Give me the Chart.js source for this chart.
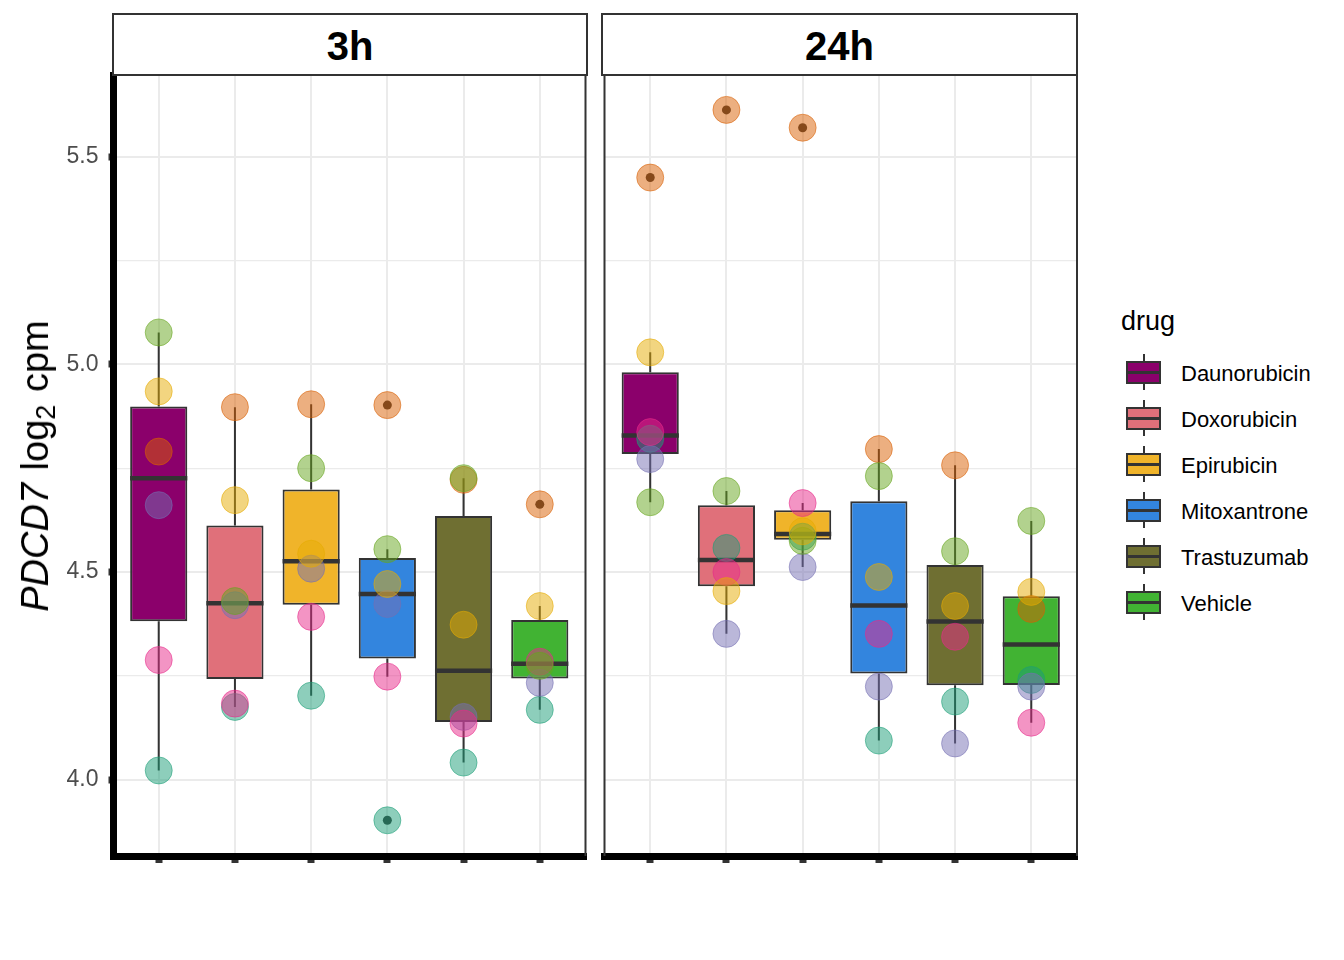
<!DOCTYPE html>
<html><head><meta charset="utf-8">
<script src="https://cdn.jsdelivr.net/npm/chart.js@4.4.0/dist/chart.umd.min.js"></script>
<style>
html,body{margin:0;padding:0;background:#fff;width:1344px;height:960px;overflow:hidden;font-family:"Liberation Sans",Arial,sans-serif;}
canvas{position:absolute;top:0;}
.strip{position:absolute;top:13px;height:63px;border:2px solid #333;box-sizing:border-box;background:#fff;text-align:center;font-weight:bold;font-size:40px;line-height:63px;color:#000;}
#ytitle{position:absolute;left:35px;top:466px;transform:translate(-50%,-50%) rotate(-90deg);white-space:nowrap;font-size:38px;color:#000;line-height:1;word-spacing:2px;}
#ytitle sub{font-size:27px;vertical-align:-7px;line-height:0;}
.ltitle{position:absolute;left:1121px;top:308px;font-size:27px;line-height:27px;color:#000;}
.lkey{position:absolute;left:1126px;width:35px;height:23px;border:2px solid #333;box-sizing:border-box;}
.lmed{position:absolute;left:0;right:0;top:8.5px;height:2.5px;background:#333;}
.lwhisk{position:absolute;left:1142.5px;width:2px;height:36px;background:#333;}
.llab{position:absolute;left:1181px;font-size:22px;line-height:22px;color:#000;white-space:nowrap;}
</style>
</head><body>
<canvas id="c3h" width="600" height="960" style="left:0px"></canvas>
<canvas id="c24h" width="510" height="960" style="left:590px"></canvas>
<div class="strip" id="s3h" style="left:112px;width:476px"></div>
<div class="strip" id="s24h" style="left:601px;width:477px"></div>
<div id="ytitle"><i>PDCD7</i> log<sub>2</sub> cpm</div>
<div id="legend"></div>
<script>
// ---- data ----
const drugs = ['Daunorubicin','Doxorubicin','Epirubicin','Mitoxantrone','Trastuzumab','Vehicle'];
const drugColors = ['#8B006B','#E0707A','#F0B42A','#3385DE','#6F6F32','#41B333'];
const facets = ['3h','24h'];
const yTicks = [4.0, 4.5, 5.0, 5.5];
// individuals (Dark2 order): teal, orange, purple, pink, green, yellow
const indColors = ['27,158,119','217,95,2','117,112,179','231,41,138','102,166,30','230,171,2'];
// values per individual, in drug order
const ind1_3h = [4.022, 4.175, 4.202, 3.902, 4.041, 4.168];
const ind2_3h = [4.790, 4.897, 4.904, 4.902, 4.722, 4.663];
const ind3_3h = [4.661, 4.420, 4.508, 4.423, 4.151, 4.233];
const ind4_3h = [4.288, 4.183, 4.392, 4.248, 4.135, 4.284];
const ind5_3h = [5.077, 4.430, 4.750, 4.555, 4.726, 4.274];
const ind6_3h = [4.935, 4.673, 4.544, 4.471, 4.373, 4.418];
const ind1_24h = [4.821, 4.558, 4.585, 4.094, 4.188, 4.240];
const ind2_24h = [5.450, 5.613, 5.570, 4.796, 4.757, 4.411];
const ind3_24h = [4.772, 4.351, 4.512, 4.224, 4.087, 4.224];
const ind4_24h = [4.837, 4.500, 4.666, 4.351, 4.344, 4.137];
const ind5_24h = [4.668, 4.695, 4.575, 4.731, 4.550, 4.623];
const ind6_24h = [5.029, 4.454, 4.598, 4.488, 4.418, 4.452];
const series3h = [ind1_3h, ind2_3h, ind3_3h, ind4_3h, ind5_3h, ind6_3h];
const series24h = [ind1_24h, ind2_24h, ind3_24h, ind4_24h, ind5_24h, ind6_24h];
const yMin = 3.816, yMax = 5.697;

// ---- boxplot statistics (type 7 quantiles, 1.5 IQR whiskers) ----
function q7(s, p){ const h=(s.length-1)*p, lo=Math.floor(h), hi=Math.min(lo+1,s.length-1); return s[lo]+(h-lo)*(s[hi]-s[lo]); }
function boxStats(vals){
  const s=[...vals].sort((a,b)=>a-b);
  const q1=q7(s,.25), med=q7(s,.5), q3=q7(s,.75), iqr=q3-q1;
  const lo=q1-1.5*iqr, hi=q3+1.5*iqr;
  const inside=s.filter(v=>v>=lo&&v<=hi);
  return {q1,med,q3,wlo:Math.min(...inside),whi:Math.max(...inside),out:s.filter(v=>v<lo||v>hi)};
}
const isMajor = v => yTicks.some(t=>Math.abs(t-v)<1e-6);

function makePlugin(stats, sides){
  return {
    id:'boxExtras',
    beforeDatasetsDraw(chart){
      const a=chart.chartArea, ctx=chart.ctx;
      ctx.save(); ctx.strokeStyle='#333333'; ctx.lineWidth=2; ctx.beginPath();
      if(sides.includes('t')){ctx.moveTo(a.left,a.top);ctx.lineTo(a.right,a.top);}
      if(sides.includes('r')){ctx.moveTo(a.right,a.top);ctx.lineTo(a.right,a.bottom);}
      if(sides.includes('l')){ctx.moveTo(a.left,a.top);ctx.lineTo(a.left,a.bottom);}
      ctx.stroke(); ctx.restore();
    },
    afterDatasetDraw(chart,args){
      if(args.index!==0) return;
      const ctx=chart.ctx, xs=chart.scales.x, ys=chart.scales.y, meta=chart.getDatasetMeta(0);
      ctx.save(); ctx.strokeStyle='#333333';
      meta.data.forEach((bar,i)=>{
        const s=stats[i], x=xs.getPixelForValue(i), half=bar.width/2;
        ctx.lineWidth=2; ctx.beginPath();
        ctx.moveTo(x,ys.getPixelForValue(s.q3)); ctx.lineTo(x,ys.getPixelForValue(s.whi));
        ctx.moveTo(x,ys.getPixelForValue(s.q1)); ctx.lineTo(x,ys.getPixelForValue(s.wlo));
        ctx.stroke();
        const ym=ys.getPixelForValue(s.med);
        ctx.lineWidth=4.5; ctx.beginPath(); ctx.moveTo(x-half,ym); ctx.lineTo(x+half,ym); ctx.stroke();
      });
      ctx.restore();
    }
  };
}

function makePanel(id, series, isLeft, padL, padR){
  const stats = drugs.map((d,i)=>boxStats(series.map(s=>s[i])));
  const outPts=[]; stats.forEach((s,i)=>s.out.forEach(v=>outPts.push({x:i,y:v})));
  const datasets=[{
    type:'bar', data:stats.map((s,i)=>({x:i,y:[s.q1,s.q3]})),
    backgroundColor:drugColors, borderColor:'#333333', borderWidth:2, borderSkipped:false,
    categoryPercentage:1, barPercentage:0.75, order:20
  },{
    type:'scatter', data:outPts, pointRadius:4.5, pointBackgroundColor:'#333333', pointBorderWidth:0, order:10
  }];
  series.forEach((vals,k)=>datasets.push({
    type:'scatter', data:vals.map((v,i)=>({x:i,y:v})), pointRadius:13.5,
    pointBackgroundColor:'rgba('+indColors[k]+',0.5)', pointBorderColor:'rgba('+indColors[k]+',0.55)', pointBorderWidth:1,
    order:6-k
  }));
  return new Chart(document.getElementById(id),{
    type:'bar',
    data:{datasets},
    options:{
      responsive:false, animation:false, events:[],
      layout:{padding:{left:padL,right:padR,top:75,bottom:104}},
      plugins:{legend:{display:false},tooltip:{enabled:false}},
      scales:{
        x:{type:'linear',min:-0.6,max:5.6,offset:false,
          ticks:{stepSize:1,includeBounds:false,display:false},
          grid:{offset:false,color:'#EBEBEB',lineWidth:2,tickColor:'#333333',tickWidth:7,tickLength:7,drawTicks:true},
          border:{display:true,color:'#000',width:7},
          afterFit:s=>{s.height=0;}},
        y:{type:'linear',min:yMin,max:yMax,
          ticks:{stepSize:0.25,includeBounds:false,display:isLeft,padding:10,color:'#4D4D4D',
            font:{family:'"Liberation Sans", Arial, sans-serif',size:23},
            callback:v=>isMajor(v)?v.toFixed(1):''},
          grid:{color:'#EBEBEB',lineWidth:c=>isMajor(c.tick.value)?2:1.3,
            tickColor:c=>isMajor(c.tick.value)?'#333333':'rgba(0,0,0,0)',tickWidth:7,tickLength:4.5,drawTicks:isLeft},
          border:{display:isLeft,color:'#000',width:7},
          afterFit:s=>{s.width=isLeft?113:0;}}
      }
    },
    plugins:[makePlugin(stats, isLeft?'tr':'trl')]
  });
}
makePanel('c3h', series3h, true, 0, 13);
makePanel('c24h', series24h, false, 12, 23);
document.getElementById('s3h').textContent=facets[0];
document.getElementById('s24h').textContent=facets[1];

// legend
const lg=document.getElementById('legend');
let html='<div class="ltitle">drug</div>';
drugs.forEach((d,i)=>{
  const c=372.3+46*i;
  html+='<div class="lwhisk" style="top:'+(c-18)+'px"></div>';
  html+='<div class="lkey" style="top:'+(c-11.5)+'px;background:'+drugColors[i]+'"><div class="lmed"></div></div>';
  html+='<div class="llab" style="top:'+(c-9.7)+'px">'+d+'</div>';
});
lg.innerHTML=html;
</script>
</body></html>
